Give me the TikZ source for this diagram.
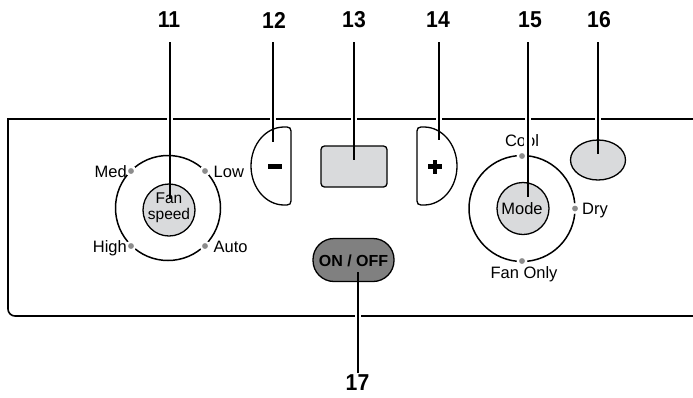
\documentclass[tikz,border=0pt]{standalone}
\usepackage{fontspec}
\setmainfont{Liberation Sans}
\usetikzlibrary{shapes.geometric}
\definecolor{btngray}{RGB}{217,218,220}
\definecolor{offgray}{RGB}{128,128,128}
\definecolor{dotgray}{RGB}{140,140,140}
\begin{document}
\begin{tikzpicture}[x=1pt,y=-1pt,
  lbl/.style={font=\fontsize{16.5}{17}\selectfont, inner sep=0pt},
  btnlbl/.style={font=\fontsize{15.5}{16}\selectfont, inner sep=0pt},
  num/.style={font=\fontsize{23}{24}\selectfont\bfseries, inner sep=0pt, xscale=0.92},
  leader/.style={line width=1.8pt},
  halo/.style={white, line width=6pt},
  btn/.style={draw, line width=1.3pt, fill=btngray, inner sep=0pt},
  halfbtn/.style={draw, line width=1.3pt, fill=white},
  ring/.style={line width=1.5pt},
  dot/.style={circle, fill=dotgray, draw=white, line width=2.2pt, inner sep=0pt, minimum size=8.5pt},
  panel/.style={line width=1.6pt}
]
\useasboundingbox (0,0) rectangle (693,397);

% panel
\draw[panel] (693,119) -- (8,119) -- (8,309) arc[start angle=180, end angle=90, radius=7] -- (693,316);

% fan speed ring
\draw[ring] (168,208) circle[radius=52.5];
\node[dot] (dMed) at (131,171) {};
\node[dot] (dLow) at (205,171) {};
\node[dot] (dHigh) at (131,246) {};
\node[dot] (dAuto) at (205,246) {};
\node[btn, circle, minimum size=52pt] (fan) at (169,210) {};
\node[lbl, anchor=base east] (tMed) at (127,177.5) {Med};
\node[lbl, anchor=base west] (tLow) at (213.5,177.5) {Low};
\node[lbl, anchor=base east] (tHigh) at (127,252) {High};
\node[lbl, anchor=base west] (tAuto) at (213.5,252) {Auto};
\node[btnlbl, anchor=base] (tFan) at (169,203.5) {Fan};
\node[btnlbl, anchor=base] (tSpeed) at (169,219) {speed};

% minus button
\draw[halfbtn] (284,127) -- (287,127) .. controls (289.5,127) and (291,128.5) .. (291,131) -- (291,201) .. controls (291,203.5) and (289.5,205) .. (287,205) -- (284,205) .. controls (265.8,205) and (251,187.5) .. (251,166) .. controls (251,144.5) and (265.8,127) .. (284,127) -- cycle;
\fill (268.3,163.5) rectangle (281.7,168.7);

% display
\node[btn, rectangle, rounded corners=3.5pt, minimum width=66pt, minimum height=41pt] (disp) at (354,166.5) {};

% plus button
\draw[halfbtn] (424,127) -- (421,127) .. controls (418.5,127) and (417,128.5) .. (417,131) -- (417,201) .. controls (417,203.5) and (418.5,205) .. (421,205) -- (424,205) .. controls (442.2,205) and (457,187.5) .. (457,166) .. controls (457,144.5) and (442.2,127) .. (424,127) -- cycle;
\fill (428.3,164.2) rectangle (441.7,169.3);
\fill (432.7,159.5) rectangle (437.3,174);

% mode ring
\draw[ring] (522,208.5) circle[radius=53];
\node[dot] (dCool) at (522,156) {};
\node[dot] (dDry) at (575,208.5) {};
\node[dot] (dFanOnly) at (522,261) {};
\node[btn, circle, minimum size=52pt] (mode) at (523,208.5) {};
\node[lbl, anchor=base] (tMode) at (522,214) {Mode};
\node[lbl, anchor=base] (tCool) at (522,146.7) {Cool};
\node[lbl, anchor=base west] (tDry) at (582,214) {Dry};
\node[lbl, anchor=base] (tFanOnly) at (524,278.5) {Fan Only};

% ellipse button 16
\node[btn, ellipse, minimum width=55pt, minimum height=40pt] (b16) at (598,160) {};

% on/off
\node[draw, line width=1.3pt, fill=offgray, rectangle, rounded corners=21pt, minimum width=81pt, minimum height=43pt] (onoff) at (353.5,260) {};
\node[lbl, font=\fontsize{16}{17}\selectfont\bfseries, anchor=base] (tOnOff) at (353.5,266.7) {ON / OFF};

% numbers
\node[num] (n11) at (169,20) {11};
\node[num] (n12) at (274,20) {12};
\node[num] (n13) at (354,20) {13};
\node[num] (n14) at (438,20) {14};
\node[num] (n15) at (530,20) {15};
\node[num] (n16) at (599,20) {16};
\node[num] (n17) at (357.5,383) {17};

% leader coordinates
\coordinate (a11) at (170,42);   \coordinate (e11) at (170,198);
\coordinate (a12) at (273,42);   \coordinate (e12) at (273,142);
\coordinate (a13) at (354,42);   \coordinate (e13) at (354,160);
\coordinate (a14) at (439,42);   \coordinate (e14) at (439,140);
\coordinate (a15) at (528,42);   \coordinate (e15) at (528,197);
\coordinate (a16) at (598,42);   \coordinate (e16) at (598,154);
\coordinate (a17) at (358,373);  \coordinate (e17) at (358,272);

% halos
\foreach \x in {170,273,354,439,528,598} \draw[halo] (\x,113) -- (\x,125);
\draw[halo] (358,310) -- (358,322);
\draw[white, line width=8pt] (528,131) -- (528,151);

% leaders
\foreach \n in {11,12,13,14,15,16,17} \draw[leader] (a\n) -- (e\n);
\end{tikzpicture}
\end{document}
